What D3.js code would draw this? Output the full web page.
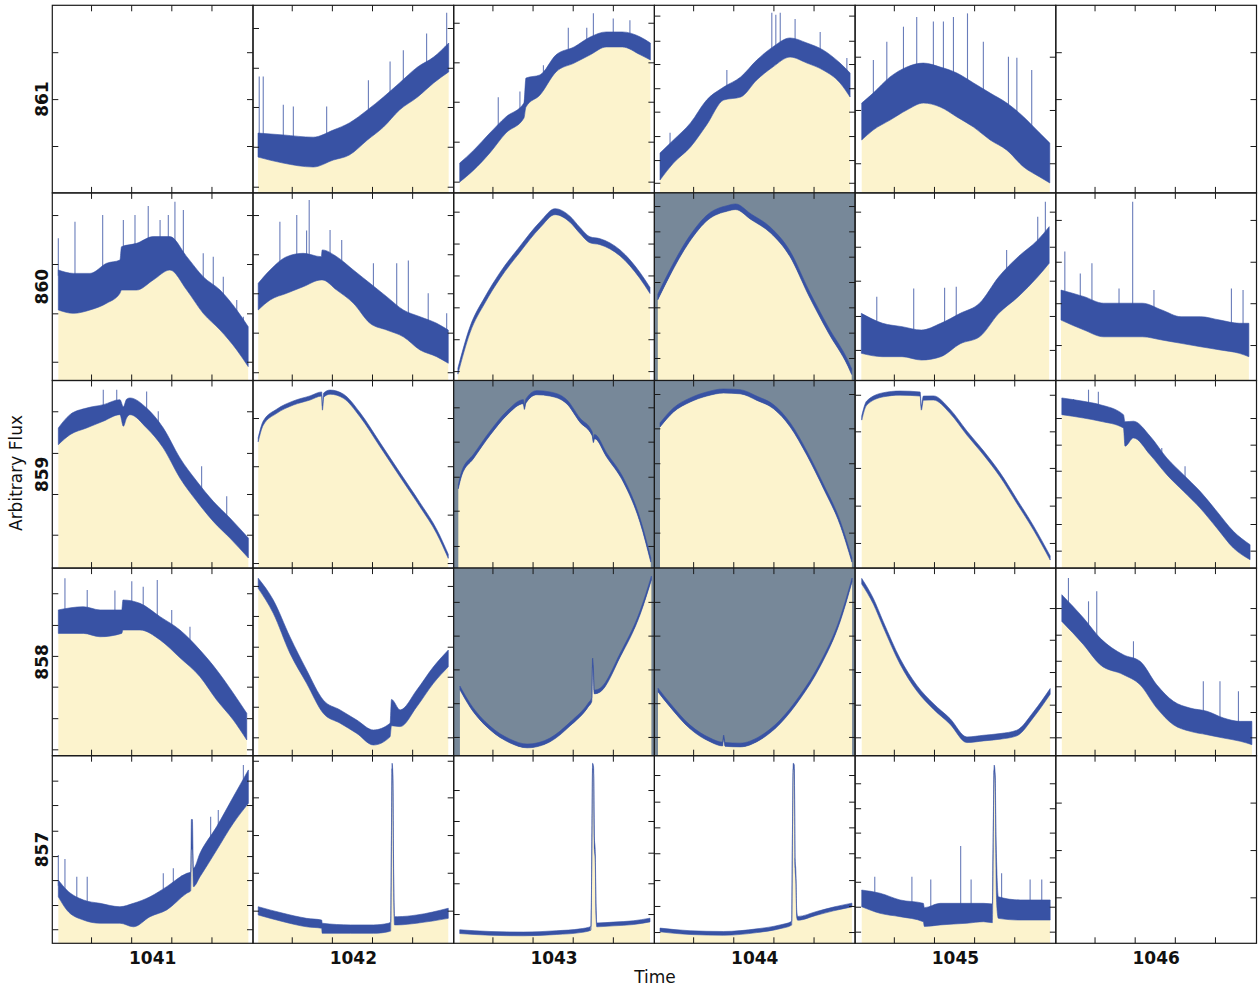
<!DOCTYPE html>
<html>
<head>
<meta charset="utf-8">
<script src="https://cdn.jsdelivr.net/npm/d3@7"></script>
<style>
  body { margin: 0; background: #fff; }
  text { font-family: "DejaVu Sans", sans-serif; fill: #111; }
</style>
</head>
<body>
<script>
// pixel rows (y labels) and time columns (x labels)
const rowLabels = [861, 860, 859, 858, 857];
const timeLabels = [1041, 1042, 1043, 1044, 1045, 1046];
// minor time ticks, relative to each column label (days)
const xTickOffsets = [-0.307, -0.107, 0.093, 0.293];
// masked pixels, drawn on grey: [row, col]
const masked = [[1, 3], [2, 2], [2, 3], [3, 2], [3, 3]];

// flux band per panel: [day in panel, low, high], flux as % of the panel's range
const flux861 = [
  [],
  [[0.025,19.1,31.9],[0.15,15.9,30.9],[0.30,13.8,29.7],[0.40,17.5,33.5],[0.48,20.2,37.3],[0.57,28.2,44.2],[0.65,35.1,51.1],[0.73,44.2,58.6],[0.82,51.1,67.1],[0.90,58.6,72.4],[0.975,64.5,79.9]],
  [[0.03,5.8,15.9],[0.10,12.2,22.8],[0.18,21.3,31.9],[0.26,31.9,40.5],[0.35,39.9,47.9],[0.36,45.8,61.2],[0.43,52.2,62.9],[0.51,64.5,73.6],[0.60,69.2,77.8],[0.68,73.6,83.1],[0.76,77.8,85.8],[0.84,77.8,85.8],[0.93,73.6,83.1],[0.98,70.9,79.9]],
  [[0.028,6.9,21.3],[0.095,15.9,28.2],[0.18,24.5,37.3],[0.26,36.2,49.5],[0.345,49.5,56.4],[0.43,51.1,61.8],[0.51,60.2,70.8],[0.59,67.1,77.8],[0.676,72.4,82.6],[0.76,69.2,79.9],[0.84,65.5,76.2],[0.925,58.6,69.2],[0.975,51.1,63.9]],
  [[0.033,28.2,47.9],[0.09,33.5,53.2],[0.174,38.8,61.8],[0.258,44.2,67.1],[0.34,47.9,69.2],[0.424,45.8,67.1],[0.507,40.5,63.9],[0.59,35.1,58.6],[0.673,28.2,53.2],[0.756,22.8,47.9],[0.84,13.8,40.5],[0.92,8.5,31.9],[0.97,5.3,26.6]],
  []
];
const flux860 = [
  [[0.03,37.6,58.9],[0.105,35.8,57.1],[0.188,37.6,57.1],[0.271,41.2,62.5],[0.337,46.5,64.2],[0.345,48.2,71.3],[0.42,48.2,73.1],[0.503,53.6,76.7],[0.586,58.9,76.7],[0.67,48.2,66.0],[0.752,35.8,55.3],[0.836,26.9,48.2],[0.919,16.3,37.6],[0.976,7.4,28.7]],
  [[0.026,37.6,51.8],[0.085,42.9,58.9],[0.168,46.5,66],[0.25,50,67.8],[0.34,53.6,66],[0.345,53.6,69.6],[0.417,48.2,66],[0.5,41.2,58.9],[0.583,30.5,51.8],[0.666,26.9,44.7],[0.749,23.3,37.6],[0.832,16.3,34],[0.915,12.7,30.5],[0.973,9.2,26.9]],
  [[0.021,3.4,6.6],[0.081,25.4,28.6],[0.156,41.4,44.6],[0.231,54.4,57.6],[0.33,68.4,71.6],[0.43,81.4,84.6],[0.505,88.4,91.6],[0.579,84.4,87.6],[0.629,78.4,81.6],[0.679,73.4,76.6],[0.729,72.4,75.6],[0.829,66.4,69.6],[0.928,54.4,57.6],[0.978,46.4,49.6]],
  [[0.017,43,46],[0.075,55.5,58.5],[0.172,73.5,76.5],[0.269,85.8,88.8],[0.365,90.3,93.3],[0.404,91.1,94.1],[0.481,85.8,88.8],[0.578,78.7,81.7],[0.674,66.3,69.3],[0.77,45,48],[0.867,25.4,28.4],[0.964,7.7,10.7],[0.983,3.2,6.2]],
  [[0.031,14.5,35.8],[0.137,12.7,30.5],[0.234,12.7,28.7],[0.330,10.9,26.9],[0.427,12.7,30.5],[0.524,19.6,35.8],[0.620,23.3,41.2],[0.716,35.8,55.3],[0.813,44.7,66],[0.910,55.3,74.9],[0.967,62.5,82]],
  [[0.026,32.2,48.2],[0.141,26.9,44.7],[0.238,23.3,41.2],[0.335,23.3,41.2],[0.431,23.3,41.2],[0.528,21.6,37.6],[0.624,19.8,34],[0.721,18,34],[0.818,16.3,32.2],[0.914,14.5,30.5],[0.962,12.7,30.5]]
];
const flux859 = [
  [[0.03,65.8,74.7],[0.088,71.1,81.8],[0.171,74.7,85.3],[0.254,78.3,87.1],[0.337,81.8,89.8],[0.354,75.6,86],[0.37,80,90],[0.387,81.8,90.7],[0.47,74.7,85.3],[0.553,64,74.7],[0.636,48,58.7],[0.72,35.6,46.3],[0.802,24.9,35.6],[0.885,16,26.7],[0.977,5.4,16]],
  [[0.026,67.3,69.5],[0.051,76.2,78.4],[0.118,82.5,84.7],[0.201,86.9,89.1],[0.284,89.6,91.8],[0.342,91.7,93.9],[0.346,84.2,86.4],[0.352,91.1,93.3],[0.384,92.7,94.9],[0.451,90.5,92.7],[0.533,80.7,82.9],[0.633,64.7,66.9],[0.732,48.7,50.9],[0.832,32.7,34.9],[0.915,18.5,20.7],[0.973,5.2,7.4]],
  [[0.023,42.3,44.5],[0.04,49.4,51.6],[0.098,58.3,60.5],[0.181,70.8,73],[0.264,81.4,83.6],[0.347,87.6,89.8],[0.352,84.6,86.8],[0.36,88,90.2],[0.414,92.4,94.6],[0.48,91.7,93.9],[0.563,87.6,89.8],[0.629,77.8,80],[0.69,70.5,72.7],[0.696,66.9,69.1],[0.702,69,71.2],[0.762,59.2,61.4],[0.845,45.9,48.1],[0.928,24.5,26.7],[0.982,3.2,5.4]],
  [[0.028,75.2,77.4],[0.095,83.2,85.4],[0.178,88.5,90.7],[0.261,91.7,93.9],[0.344,93.3,95.5],[0.427,92.9,95.1],[0.511,89.4,91.6],[0.594,84.9,87.1],[0.677,75.2,77.4],[0.76,60.1,62.3],[0.843,42.3,44.5],[0.926,22.8,25],[0.984,3.2,5.4]],
  [[0.033,78.9,81.1],[0.058,86.9,89.1],[0.141,91.3,93.5],[0.224,92.2,94.4],[0.324,91.7,93.9],[0.33,84.2,86.4],[0.34,89.5,91.7],[0.39,89.6,91.8],[0.473,82.5,84.7],[0.557,70.9,73.1],[0.64,60.3,62.5],[0.722,48.7,50.9],[0.806,34.5,36.7],[0.889,20.3,22.5],[0.972,4.3,6.5]],
  [[0.03,81.8,90.7],[0.138,80,88.9],[0.221,78.3,87.1],[0.337,74.7,81.8],[0.345,65,78],[0.387,69.4,78.3],[0.47,60.4,70.3],[0.553,49.8,58.7],[0.636,40.9,49.8],[0.719,32,40.9],[0.802,21.4,30.3],[0.885,10.7,19.6],[0.968,4.5,12.5]]
];
const flux858 = [
  [[0.03,65.2,77.7],[0.155,65.2,79.4],[0.238,63.4,77.7],[0.346,65.2,77.7],[0.352,67,83],[0.437,67,81.2],[0.537,61.7,74.1],[0.636,52.2,67],[0.736,42.1,56.3],[0.819,29.7,45.7],[0.902,19,33.3],[0.969,8.4,22.6]],
  [[0.026,89.2,94.6],[0.101,75.9,83],[0.184,54.6,63.4],[0.267,38.6,45.7],[0.35,22.6,29.7],[0.434,17.3,24.4],[0.517,11.9,19],[0.6,5.7,13.7],[0.683,10.1,17.3],[0.69,16,30],[0.733,15.5,24.4],[0.816,26.1,35],[0.899,38.6,47.4],[0.973,47.4,56.3]],
  [[0.031,35.1,37.1],[0.081,26,28],[0.181,13.8,15.8],[0.281,6.8,8.8],[0.366,4.2,6.2],[0.48,7.4,9.4],[0.58,15.9,17.9],[0.67,26,28],[0.688,29,31],[0.692,48,52],[0.697,40,44],[0.70,33,35],[0.73,34,36],[0.83,52.7,54.7],[0.93,75.6,77.6],[0.985,93.7,95.7]],
  [[0.018,34,36],[0.078,26,28],[0.178,14.3,16.3],[0.278,7.4,9.4],[0.34,5.2,7.2],[0.345,9,11],[0.352,5,7],[0.427,4.7,6.7],[0.526,8.4,10.4],[0.626,17,19],[0.726,30.3,32.3],[0.825,47.4,49.4],[0.925,71.4,73.4],[0.985,92.7,94.7]],
  [[0.033,91.5,94.5],[0.091,80.8,83.8],[0.141,68.3,71.3],[0.224,48.8,51.8],[0.307,34.6,37.6],[0.39,24.8,27.8],[0.473,16.8,19.8],[0.557,7,10],[0.64,7.9,10.9],[0.722,8.8,11.8],[0.806,10.6,13.6],[0.889,20.4,23.4],[0.972,32.8,35.8]],
  [[0.03,71.6,85.8],[0.138,59.2,73.4],[0.221,48.5,62.7],[0.337,43.2,53.8],[0.42,37.8,50.3],[0.503,25.4,37.8],[0.586,16.5,29],[0.669,13,25.4],[0.753,11.2,23.7],[0.836,9.4,20.1],[0.919,7.7,18.3],[0.977,5.9,18.3]]
];
const flux857 = [
  [[0.03,24.8,33.7],[0.072,17.8,28.4],[0.155,12.4,23.1],[0.238,10.7,21.3],[0.337,10.7,19.5],[0.404,8.8,21.3],[0.487,14.2,24.8],[0.57,17.8,30.2],[0.67,26.7,37.3],[0.69,28,38],[0.693,50,66],[0.698,50,66],[0.703,30.2,40],[0.736,35.5,48],[0.819,49.7,62.2],[0.902,64,78.1],[0.977,74.6,92.4]],
  [[0.026,15.1,19.5],[0.151,11.5,16],[0.267,8.8,13.3],[0.342,8,12.4],[0.345,5.3,10.7],[0.486,5.3,9.8],[0.6,5.3,9.8],[0.675,6.2,10.7],[0.686,6.5,11.5],[0.69,55,62],[0.693,93,96],[0.697,85,90],[0.70,40,48],[0.705,9.8,14.2],[0.72,9.8,14.2],[0.816,10.7,15.1],[0.973,13.3,18.7]],
  [[0.03,5.2,7.2],[0.181,4.3,6.3],[0.347,4,6],[0.513,4.7,6.7],[0.63,5.7,7.7],[0.684,7,9],[0.689,58,62],[0.692,93,96],[0.697,90,94],[0.701,50,56],[0.705,45,50],[0.709,15,22],[0.713,8.8,10.8],[0.795,9.3,11.3],[0.895,10,12],[0.978,11.4,13.4]],
  [[0.028,6.1,8.1],[0.178,4.7,6.7],[0.344,4.3,6.3],[0.51,5.7,7.7],[0.626,7.8,9.8],[0.684,9.7,11.7],[0.688,58,62],[0.692,93,96],[0.697,92,95],[0.701,40,45],[0.705,33,38],[0.709,14,18],[0.714,12.3,14.3],[0.809,15,17],[0.892,17.3,19.3],[0.984,19.4,21.4]],
  [[0.033,19.5,28.4],[0.124,16,26.7],[0.224,14.2,23.1],[0.34,11.5,21.3],[0.345,9,19],[0.424,9.8,21.3],[0.557,10.7,21.3],[0.64,11.5,21.3],[0.684,11,21],[0.688,50,58.6],[0.693,92,95],[0.698,85,90],[0.702,40,58],[0.706,20,40],[0.714,13.3,24.8],[0.822,12.4,23.1],[0.972,12.4,23.1]],
  []
];

// single-cadence outliers: [day in panel, peak flux %]
const spikes861 = [
  [],
  [[0.031,62],[0.051,62],[0.151,47],[0.201,46],[0.367,46],[0.575,60],[0.683,70],[0.749,76],[0.865,85],[0.965,96]],
  [[0.222,51],[0.330,54],[0.447,68],[0.571,88],[0.663,88],[0.696,95.7],[0.795,93],[0.878,92]],
  [[0.078,32],[0.361,65.5],[0.585,96],[0.605,95],[0.627,96],[0.701,92.7],[0.826,85.8],[0.959,71.9]],
  [[0.091,70.8],[0.158,80.6],[0.241,88.6],[0.307,93.8],[0.39,91.3],[0.44,91.3],[0.49,93.8],[0.56,95.7],[0.639,80.6],[0.764,72.6],[0.806,72],[0.88,65.5]],
  []
];
const spikes860 = [
  [[0.030,75.8],[0.113,84.6],[0.251,88.2],[0.354,85.6],[0.412,88.2],[0.478,93],[0.537,85.6],[0.578,88.2],[0.611,95.3],[0.653,90.9],[0.752,67.8],[0.802,66],[0.852,55.3],[0.919,42.9],[0.952,34]],
  [[0.134,84.6],[0.218,88.2],[0.267,80],[0.280,96.2],[0.384,80.2],[0.442,74.9],[0.600,62.5],[0.716,62.5],[0.774,64],[0.873,46.5],[0.965,35.8]],
  [],
  [],
  [[0.108,44.7],[0.292,49.1],[0.446,49.5],[0.504,50],[0.755,69.6],[0.910,87.3],[0.948,95.3]],
  [[0.045,68.7],[0.122,57],[0.180,62.5],[0.315,49],[0.383,95.3],[0.489,48.2],[0.875,49],[0.933,48.2]]
];
const spikes859 = [
  [[0.254,95.1],[0.321,95.1],[0.470,94.2],[0.528,83.6],[0.744,54.3],[0.869,38.3]],
  [], [], [], [],
  [[0.088,90],[0.163,95.1],[0.212,94],[0.528,64],[0.644,54.3]]
];
const spikes858 = [
  [[0.063,94.6],[0.174,88.3],[0.312,88],[0.396,93],[0.453,90],[0.523,93.7],[0.595,77.7],[0.686,68.8]],
  [], [], [], [],
  [[0.063,94.7],[0.163,82.3],[0.204,87.6],[0.387,61],[0.735,39.7],[0.818,39.7],[0.910,34.3]]
];
const spikes857 = [
  [[0.030,47.1],[0.063,45],[0.122,35.5],[0.174,35.5],[0.553,37.3],[0.603,40],[0.645,36],[0.789,67.5],[0.827,71.1],[0.952,95]],
  [], [], [],
  [[0.098,35.5],[0.283,35.5],[0.377,34],[0.526,51.9],[0.578,34],[0.730,37.3],[0.872,34],[0.930,34]],
  []
];

// y tick positions per panel (flux %)
const ticks861 = [[25,50,75],[3.3,24.6,45.8,66.7,87.9],[6,27.3,48.6,69.6,90.7],[5.4,17.5,30.3,43.3,55.8,68.7,81.1,94.5],[15.8,44.2,72.6],[25,50,75]];
const ticks860 = [[10,35.8,62.1,88.2],[4.4,25.5,46.5,67.3,88.2],[5,22,39,56,73,90],[12,25.5,39,52.5,66,79.5,93],[16.3,34.4,53.2,71.3,90],[18.9,41.2,63.3,85.6]];
const ticks859 = [[17.8,39.5,61.4,83.6],[2.7,28.5,54.3,80],[11.8,30.6,48.7,67.4,85.7],[18.9,37.2,55.9,74.5,92.8],[13.4,33.3,53.4,72.9,92.4],[9.3,23.5,37.7,51.9,65.8,80]];
const ticks858 = [[3.4,20,36.8,53.2,69.7,86.6],[9.8,26.1,42.1,58.1,74.5,90.5],[10,28,46,64,82],[10,28,46,64,82],[9.8,27.2,44.6,61.8,78.7],[9.8,23.3,37,50.6,64.5,78.7]];
const ticks857 = [[7.5,20.4,33.7,46.5,60,73.7,86.7],[17.4,37.6,57.7,77.8,97.3],[15.6,32,48.3,65.2,81.7],[6,19.9,33.7,48,61.8,75.5,89.7],[6.2,19.5,32.8,45.8,59,72,85.3],[24.5,49.7,75]];

const fluxRows = [flux861, flux860, flux859, flux858, flux857];
const spikeRows = [spikes861, spikes860, spikes859, spikes858, spikes857];
const tickRows = [ticks861, ticks860, ticks859, ticks858, ticks857];

const W = 1258, H = 989;
const marginLeft = 52.3, marginTop = 5.3, pw = 200.7, ph = 187.6;
const blue = "#3852a4", yellow = "#fcf3cd", grey = "#778899";

const svg = d3.select("body").append("svg")
    .attr("width", W).attr("height", H);

const y = d3.scaleLinear().domain([0, 100]).range([ph, 0]);

rowLabels.forEach(function(row, r) {
  timeLabels.forEach(function(t0, c) {
    const g = svg.append("g")
        .attr("transform", "translate(" + (marginLeft + c * pw) + "," + (marginTop + r * ph) + ")");
    const x = d3.scaleLinear().domain([t0 - 0.5, t0 + 0.5]).range([0, pw]);

    const clipId = "clip-" + r + "-" + c;
    g.append("clipPath").attr("id", clipId)
      .append("rect").attr("width", pw).attr("height", ph);
    const body = g.append("g").attr("clip-path", "url(#" + clipId + ")");

    if (masked.some(function(m) { return m[0] === r && m[1] === c; })) {
      body.append("rect").attr("width", pw).attr("height", ph).attr("fill", grey);
    }

    const pts = fluxRows[r][c].map(function(d) {
      return {t: t0 - 0.5 + d[0], lo: d[1], hi: d[2]};
    });

    if (pts.length) {
      // yellow fill under the light curve
      body.append("path").datum(pts)
        .attr("fill", yellow)
        .attr("d", d3.area()
          .x(function(d) { return x(d.t); })
          .y0(y(0))
          .y1(function(d) { return y(d.lo); })
          .curve(d3.curveMonotoneX));

      // outliers, drawn from the top of the band
      const hiAt = d3.scaleLinear()
          .domain(pts.map(function(d) { return d.t; }))
          .range(pts.map(function(d) { return d.hi; }));
      body.selectAll("line.spike")
        .data(spikeRows[r][c])
        .enter()
        .append("line")
        .attr("class", "spike")
        .attr("x1", function(d) { return x(t0 - 0.5 + d[0]); })
        .attr("x2", function(d) { return x(t0 - 0.5 + d[0]); })
        .attr("y1", function(d) { return y(hiAt(t0 - 0.5 + d[0]) - 3); })
        .attr("y2", function(d) { return y(d[1]); })
        .attr("stroke", blue).attr("stroke-width", 1.1).attr("opacity", 0.75);

      // the flux band
      body.append("path").datum(pts)
        .attr("fill", blue)
        .attr("stroke", blue)
        .attr("stroke-width", 0.6)
        .attr("d", d3.area()
          .x(function(d) { return x(d.t); })
          .y0(function(d) { return y(d.lo); })
          .y1(function(d) { return y(d.hi); })
          .curve(d3.curveMonotoneX));
    }

    // inward ticks on all four sides
    const xt = xTickOffsets.map(function(o) { return t0 + o; });
    const yt = tickRows[r][c];
    g.append("g").attr("transform", "translate(0," + ph + ")")
      .call(d3.axisBottom(x).tickValues(xt).tickSize(-6).tickFormat(""));
    g.append("g")
      .call(d3.axisTop(x).tickValues(xt).tickSize(-6).tickFormat(""));
    g.append("g")
      .call(d3.axisLeft(y).tickValues(yt).tickSize(-6).tickFormat(""));
    g.append("g").attr("transform", "translate(" + pw + ",0)")
      .call(d3.axisRight(y).tickValues(yt).tickSize(-6).tickFormat(""));

    g.append("rect")
      .attr("width", pw).attr("height", ph)
      .attr("fill", "none").attr("stroke", "#1a1a1a").attr("stroke-width", 1.2);
  });
});

svg.selectAll(".domain").remove();
svg.selectAll(".tick line").attr("stroke", "#1a1a1a").attr("stroke-width", 1);

// row labels
svg.selectAll("text.row")
  .data(rowLabels)
  .enter()
  .append("text")
  .attr("class", "row")
  .attr("transform", function(d, i) {
    return "translate(48," + (marginTop + i * ph + ph / 2) + ") rotate(-90)";
  })
  .attr("text-anchor", "middle")
  .attr("font-size", 17).attr("font-weight", "bold")
  .text(function(d) { return d; });

// column labels
svg.selectAll("text.col")
  .data(timeLabels)
  .enter()
  .append("text")
  .attr("class", "col")
  .attr("x", function(d, i) { return marginLeft + i * pw + pw / 2; })
  .attr("y", 964)
  .attr("text-anchor", "middle")
  .attr("font-size", 17).attr("font-weight", "bold")
  .text(function(d) { return d; });

svg.append("text")
  .attr("x", 655).attr("y", 983)
  .attr("text-anchor", "middle")
  .attr("font-size", 17)
  .text("Time");

svg.append("text")
  .attr("transform", "translate(22,473) rotate(-90)")
  .attr("text-anchor", "middle")
  .attr("font-size", 17)
  .text("Arbitrary Flux");
</script>
</body>
</html>
